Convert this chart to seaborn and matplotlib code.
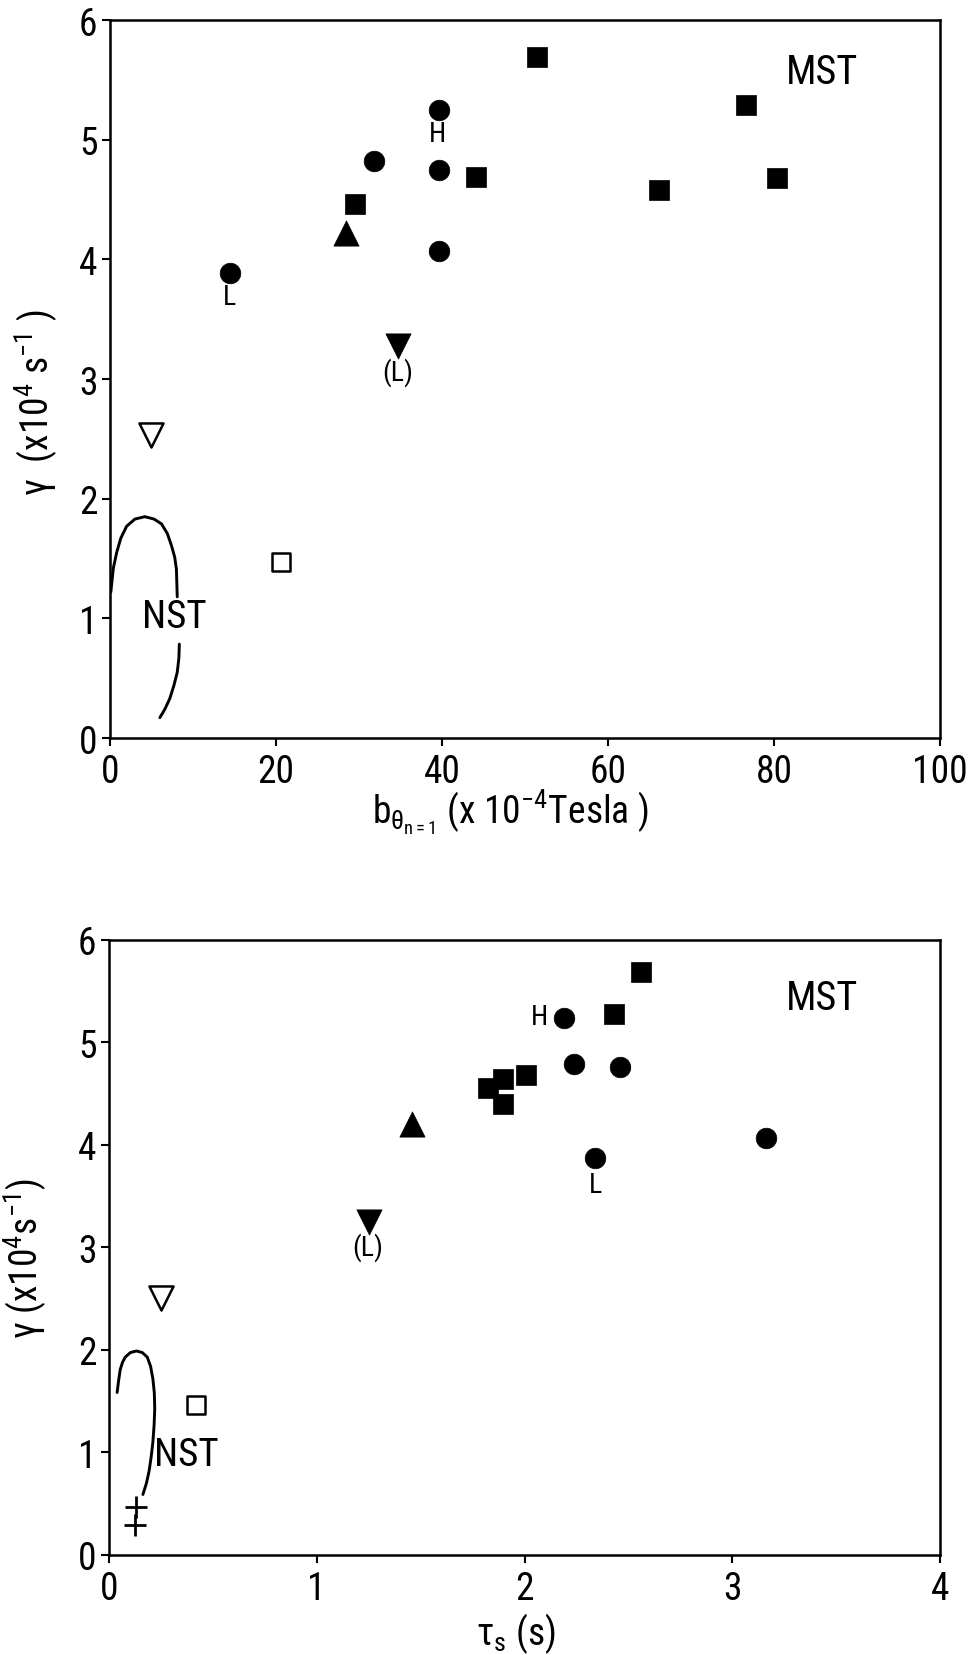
import matplotlib
matplotlib.use("Agg")
import matplotlib.pyplot as plt
from matplotlib import font_manager
import seaborn as sns

# ---------------- data ----------------
# upper panel: growth rate vs. n=1 field amplitude (x 1e-4 T)
b_sq = [51.4, 76.6, 44.1, 66.1, 80.4, 29.5]
g_sq_b = [5.69, 5.29, 4.69, 4.58, 4.68, 4.46]
b_circ = [39.6, 31.8, 39.6, 39.6, 14.4]
g_circ_b = [5.25, 4.82, 4.75, 4.07, 3.89]
b_tri_up, g_tri_up_b = [28.4], [4.22]
b_tri_dn, g_tri_dn_b = [34.7], [3.28]
b_open_tri, g_open_tri_b = [4.9], [2.53]
b_open_sq, g_open_sq_b = [20.6], [1.47]
# NST envelope (two strokes)
nst1_b = [0.1, 0.4, 0.8, 1.3, 2.0, 3.0, 4.2, 5.3, 6.2, 6.9, 7.4, 7.8, 8.0, 8.1]
nst1_g = [1.22, 1.42, 1.55, 1.67, 1.77, 1.83, 1.85, 1.83, 1.79, 1.71, 1.61, 1.51, 1.41, 1.18]
nst2_b = [8.35, 8.3, 8.1, 7.7, 7.2, 6.6, 6.0]
nst2_g = [0.785, 0.67, 0.55, 0.44, 0.33, 0.24, 0.17]

# lower panel: growth rate vs. sawtooth period tau_s (s)
t_sq = [2.56, 2.43, 2.007, 1.823, 1.895, 1.895]
g_sq_t = [5.69, 5.28, 4.68, 4.56, 4.64, 4.40]
t_circ = [2.19, 2.24, 2.46, 2.34, 3.16]
g_circ_t = [5.24, 4.79, 4.76, 3.87, 4.07]
t_tri_up, g_tri_up_t = [1.46], [4.20]
t_tri_dn, g_tri_dn_t = [1.25], [3.25]
t_open_tri, g_open_tri_t = [0.25], [2.51]
t_open_sq, g_open_sq_t = [0.42], [1.46]
t_plus, g_plus_t = [0.128, 0.125], [0.47, 0.29]
nst_t = [0.039, 0.046, 0.054, 0.065, 0.078, 0.103, 0.132, 0.160, 0.184, 0.200,
         0.211, 0.218, 0.22, 0.217, 0.211, 0.203, 0.193, 0.180, 0.163]
nst_g = [1.585, 1.70, 1.81, 1.88, 1.93, 1.975, 1.99, 1.975, 1.93, 1.84,
         1.72, 1.58, 1.43, 1.27, 1.10, 0.96, 0.82, 0.70, 0.59]

y_ticks = [0, 1, 2, 3, 4, 5, 6]
b_ticks = [0, 20, 40, 60, 80, 100]
t_ticks = [0, 1, 2, 3, 4]

# ---------------- style ----------------
sns.set_theme(style="white")
installed = {f.name for f in font_manager.fontManager.ttflist}
family = next(f for f in ["Roboto Condensed", "Roboto", "DejaVu Sans"] if f in installed)
plt.rcParams["font.family"] = [family, "DejaVu Sans"]
plt.rcParams["mathtext.fontset"] = "custom"
plt.rcParams["mathtext.rm"] = family
plt.rcParams["mathtext.it"] = family
plt.rcParams["mathtext.sf"] = family
for key in ["text.color", "axes.labelcolor", "xtick.color", "ytick.color"]:
    plt.rcParams[key] = "black"

TICK_FS = 27
LABEL_FS = 27
TAG_FS = 29
NOTE_FS = 20
LW_CURVE = 2.1

fig = plt.figure(figsize=(9.77, 16.56), dpi=100)
ax1 = fig.add_axes([0.1126, 0.5537, 0.8496, 0.4336])
ax2 = fig.add_axes([0.1116, 0.0604, 0.8506, 0.3714])


def style_axes(ax, xticks, xlim):
    ax.set_xlim(*xlim)
    ax.set_ylim(0, 6)
    ax.set_xticks(xticks)
    ax.set_yticks(y_ticks)
    for s in ax.spines.values():
        s.set_visible(True)
        s.set_color("black")
        s.set_linewidth(1.8)
    ax.tick_params(axis="both", which="major", direction="out", length=6,
                   width=1.5, color="black", labelsize=TICK_FS,
                   labelcolor="black", left=True, bottom=True,
                   top=False, right=False)
    ax.tick_params(axis="x", pad=5)
    ax.tick_params(axis="y", pad=3)
    ax.grid(False)
    ax.set_facecolor("white")


def draw_points(ax, sq, circ, tri_up, tri_dn, open_tri, open_sq):
    sns.scatterplot(x=sq[0], y=sq[1], marker="s", s=215, color="black",
                    edgecolor="black", linewidth=0.5, ax=ax, zorder=3)
    sns.scatterplot(x=circ[0], y=circ[1], marker="o", s=220, color="black",
                    edgecolor="black", linewidth=0.5, ax=ax, zorder=3)
    sns.scatterplot(x=tri_up[0], y=tri_up[1], marker="^", s=330, color="black",
                    edgecolor="black", linewidth=0.5, ax=ax, zorder=3)
    sns.scatterplot(x=tri_dn[0], y=tri_dn[1], marker="v", s=330, color="black",
                    edgecolor="black", linewidth=0.5, ax=ax, zorder=3)
    sns.scatterplot(x=open_tri[0], y=open_tri[1], marker="v", s=300, color="white",
                    edgecolor="black", linewidth=1.8, ax=ax, zorder=3)
    sns.scatterplot(x=open_sq[0], y=open_sq[1], marker="s", s=170, color="white",
                    edgecolor="black", linewidth=1.8, ax=ax, zorder=3)


# ---------------- upper panel ----------------
style_axes(ax1, b_ticks, (0, 100))
draw_points(ax1, (b_sq, g_sq_b), (b_circ, g_circ_b), (b_tri_up, g_tri_up_b),
            (b_tri_dn, g_tri_dn_b), (b_open_tri, g_open_tri_b),
            (b_open_sq, g_open_sq_b))
sns.lineplot(x=nst1_b, y=nst1_g, sort=False, estimator=None, color="black",
             linewidth=LW_CURVE, ax=ax1)
sns.lineplot(x=nst2_b, y=nst2_g, sort=False, estimator=None, color="black",
             linewidth=LW_CURVE, ax=ax1)
ax1.text(7.8, 1.02, "NST", fontsize=TAG_FS - 1, ha="center", va="center")
ax1.text(85.8, 5.57, "MST", fontsize=TAG_FS, ha="center", va="center")
ax1.text(39.5, 5.05, "H", fontsize=NOTE_FS, ha="center", va="center")
ax1.text(14.4, 3.69, "L", fontsize=NOTE_FS, ha="center", va="center")
ax1.text(34.6, 3.06, "(L)", fontsize=NOTE_FS, ha="center", va="center")
ax1.set_xlabel(r"b$_{\theta_{n=1}}$ (x 10$^{-4}$Tesla )", fontsize=LABEL_FS)
ax1.xaxis.set_label_coords(0.482, -0.068)
ax1.set_ylabel(r"γ  (x10$^{4}$ s$^{-1}$ )", fontsize=LABEL_FS)
ax1.yaxis.set_label_coords(-0.06, 0.469)

# ---------------- lower panel ----------------
style_axes(ax2, t_ticks, (0, 4))
draw_points(ax2, (t_sq, g_sq_t), (t_circ, g_circ_t), (t_tri_up, g_tri_up_t),
            (t_tri_dn, g_tri_dn_t), (t_open_tri, g_open_tri_t),
            (t_open_sq, g_open_sq_t))
sns.scatterplot(x=t_plus, y=g_plus_t, marker="+", s=260, color="black",
                linewidth=2.0, ax=ax2, zorder=3)
sns.lineplot(x=nst_t, y=nst_g, sort=False, estimator=None, color="black",
             linewidth=LW_CURVE, ax=ax2)
ax2.text(0.374, 0.985, "NST", fontsize=TAG_FS - 1, ha="center", va="center")
ax2.text(3.43, 5.44, "MST", fontsize=TAG_FS, ha="center", va="center")
ax2.text(2.07, 5.25, "H", fontsize=NOTE_FS, ha="center", va="center")
ax2.text(2.34, 3.61, "L", fontsize=NOTE_FS, ha="center", va="center")
ax2.text(1.245, 3.01, "(L)", fontsize=NOTE_FS, ha="center", va="center")
ax2.set_xlabel(r"τ$_{s}$ (s)", fontsize=LABEL_FS)
ax2.xaxis.set_label_coords(0.489, -0.09)
ax2.set_ylabel(r"γ (x10$^{4}$s$^{-1}$)", fontsize=LABEL_FS)
ax2.yaxis.set_label_coords(-0.072, 0.483)

fig.savefig("out.png", dpi=100, facecolor="white")
